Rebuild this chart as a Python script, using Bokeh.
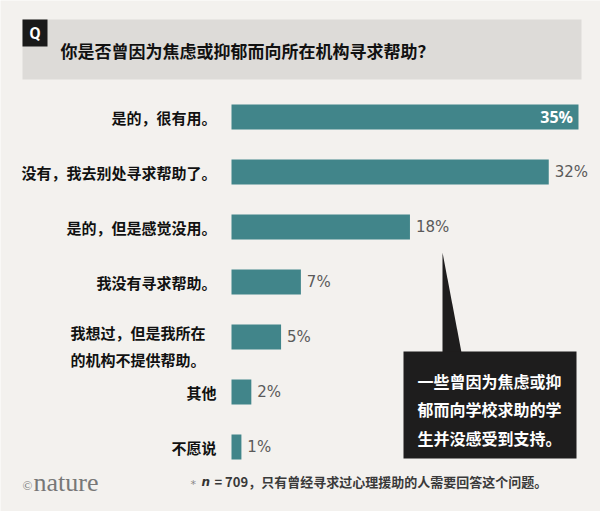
from bokeh.plotting import figure
from bokeh.models import Range1d, ColumnDataSource
from bokeh.core.properties import value
from bokeh.embed import file_html
from bokeh.resources import INLINE

# ---- data ----
categories = ["是的，很有用。", "没有，我去别处寻求帮助了。", "是的，但是感觉没用。",
              "我没有寻求帮助。", "我想过，但是我所在\n的机构不提供帮助。", "其他", "不愿说"]
values = [35, 32, 18, 7, 5, 2, 1]
value_labels = ["35%", "32%", "18%", "7%", "5%", "2%", "1%"]
title = "你是否曾因为焦虑或抑郁而向所在机构寻求帮助？"
callout_lines = ["一些曾因为焦虑或抑", "郁而向学校求助的学", "生并没感受到支持。"]
footnote_n = "n"
footnote_rest = "= 709，只有曾经寻求过心理援助的人需要回答这个问题。"

W, H = 600, 511
OFF = 0          # page offset of the figure
K = 9.914        # px per percent
X0 = 231         # image px of value 0
ROW = 55.0       # px per row
Y0 = 116.5       # image px of row 0 centre

def X(img_x):
    return (img_x - OFF - X0) / K

def Y(img_y):
    return (img_y - OFF - Y0) / ROW

BG = "#f3f1ee"
TEAL = "#41858a"
CJK = value("Noto Sans CJK SC")

p = figure(width=W, height=H, output_backend="svg", toolbar_location=None,
           x_range=Range1d(X(OFF), X(OFF + W)),
           y_range=Range1d(Y(OFF + H), Y(OFF)),
           min_border=0, background_fill_color=BG, border_fill_color=BG)
p.axis.visible = False
p.grid.visible = False
p.outline_line_color = None

# title band
p.quad(left=X(22), right=X(581), top=Y(19), bottom=Y(79), fill_color="#dddbd8", line_color=None)
p.quad(left=X(22), right=X(47), top=Y(19), bottom=Y(46), fill_color="#1a1a1a", line_color=None)
p.text(x=[X(34.5)], y=[Y(33)], text=["Q"], text_color="white", text_font=value("Roboto"),
       text_font_style="bold", text_font_size="16px", text_align="center", text_baseline="middle")
p.text(x=[X(60)], y=[Y(50)], text=[title], text_color="#111111", text_font=CJK,
       text_font_style="bold", text_font_size="17px", text_align="left", text_baseline="middle")

rows = list(range(len(categories)))
src = ColumnDataSource(dict(y=rows, v=values, cat=categories, lab=value_labels))
p.hbar(y="y", left=0, right="v", height=25 / ROW, source=src, fill_color=TEAL, line_color=None)

# category labels
single = [i for i, c in enumerate(categories) if "\n" not in c]
multi = [i for i, c in enumerate(categories) if "\n" in c]
p.text(x=[X(216)] * len(single), y=[rows[i] for i in single], text=[categories[i] for i in single],
       text_color="#111111", text_font=CJK, text_font_style="bold", text_font_size="15px",
       text_align="right", text_baseline="middle")
for i in multi:
    for j, line in enumerate(categories[i].split("\n")):
        p.text(x=[X(70)], y=[rows[i] + (-4.5 + 27 * j) / ROW], text=[line],
               text_color="#111111", text_font=CJK, text_font_style="bold", text_font_size="15px",
               text_align="left", text_baseline="middle")

# value labels
p.text(x=[values[0] - 0.55], y=[rows[0]], text=[value_labels[0]], text_color="white",
       text_font=value("Open Sans"), text_font_style="bold", text_font_size="16px",
       text_align="right", text_baseline="middle")
p.text(x=[v + 0.6 for v in values[1:]], y=rows[1:], text=value_labels[1:], text_color="#5a5a5a",
       text_font=value("DejaVu Sans"), text_font_size="15px", text_align="left", text_baseline="middle")

# callout
p.patch(x=[X(442), X(442), X(461)], y=[Y(252), Y(352), Y(352)], fill_color="#1e1d1d", line_color=None)
p.quad(left=X(403), right=X(576), top=Y(351), bottom=Y(458), fill_color="#1e1d1d", line_color=None)
p.text(x=[X(417)] * 3, y=[Y(380), Y(408.5), Y(437)], text=callout_lines, text_color="white",
       text_font=CJK, text_font_style="bold", text_font_size="16px", text_align="left",
       text_baseline="middle")

# footer
p.text(x=[X(22)], y=[Y(485)], text=["©"], text_color="#7a7a7a", text_font=value("Liberation Serif"),
       text_font_size="13px", text_align="left", text_baseline="middle")
p.text(x=[X(33)], y=[Y(482)], text=["nature"], text_color="#777777", text_font=value("Liberation Serif"),
       text_font_size="26px", text_align="left", text_baseline="middle")
p.text(x=[X(190)], y=[Y(484)], text=["*"], text_color="#888888", text_font=value("DejaVu Sans"),
       text_font_size="11px", text_align="left", text_baseline="middle")
p.text(x=[X(201)], y=[Y(481)], text=[footnote_n], text_color="#333333", text_font=value("DejaVu Sans"),
       text_font_style="bold italic", text_font_size="12px", text_align="left", text_baseline="middle")
p.text(x=[X(214)], y=[Y(481)], text=[footnote_rest], text_color="#3a3a3a", text_font=CJK,
       text_font_style="bold", text_font_size="13px", text_align="left", text_baseline="middle")

open("out.html", "w").write(file_html(p, INLINE))
